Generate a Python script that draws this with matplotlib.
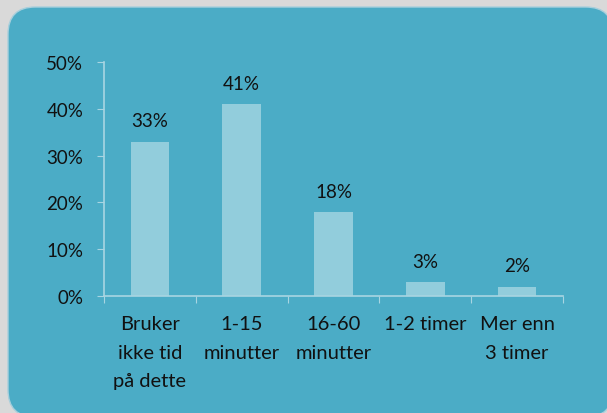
import matplotlib.pyplot as plt
from matplotlib.patches import FancyBboxPatch

categories = ["Bruker\nikke tid\npå dette", "1-15\nminutter", "16-60\nminutter", "1-2 timer", "Mer enn\n3 timer"]
values = [33, 41, 18, 3, 2]
labels = ["33%", "41%", "18%", "3%", "2%"]
yticks = [0, 10, 20, 30, 40, 50]

plt.rcParams['font.family'] = ['Lato', 'DejaVu Sans']

fig = plt.figure(figsize=(6.07, 4.14), dpi=100)
fig.patch.set_facecolor('#d9d9d9')

# rounded teal panel, slightly past the right and bottom edges
W, H = 607, 414
box = FancyBboxPatch((8 / W, -4 / H), (613 - 8) / W, (406 + 4) / H,
                     boxstyle="round,pad=0,rounding_size=0.045",
                     transform=fig.transFigure, facecolor='#4bacc6',
                     edgecolor='#a8cfdc', linewidth=1, mutation_aspect=W / H,
                     zorder=-5)
fig.patches.append(box)

ax = fig.add_axes([104 / W, 1 - 297 / H, (563 - 104) / W, (297 - 63) / H])
ax.set_facecolor('none')
ax.set_zorder(2)

x = range(len(categories))
bars = ax.bar(x, values, width=0.42, color='#92cddc')
for xi, v, lab in zip(x, values, labels):
    ax.text(xi, v + 2.6, lab, ha='center', va='bottom', fontsize=13.5, color='#111111')

ax.set_xlim(-0.5, len(categories) - 0.5)
ax.set_ylim(0, 50)
ax.set_yticks(yticks)
ax.set_yticklabels([f"{t}%" for t in yticks], fontsize=13.5, color='#111111')
ax.set_xticks([i + 0.5 for i in range(-1, len(categories))], minor=False)
ax.set_xticklabels([])
ax.set_xticks(list(x), minor=True)
ax.set_xticklabels(categories, minor=True, fontsize=14.5, color='#111111', linespacing=1.8)
ax.tick_params(axis='x', which='minor', length=0, pad=14)
ax.tick_params(axis='x', which='major', length=5, color='#a8d5e2', direction='out')
ax.tick_params(axis='y', length=5, color='#a8d5e2', pad=10)

for s in ['top', 'right']:
    ax.spines[s].set_visible(False)
for s in ['left', 'bottom']:
    ax.spines[s].set_color('#a8d5e2')
    ax.spines[s].set_linewidth(1.2)

fig.savefig('out.png', dpi=100, facecolor=fig.get_facecolor())
